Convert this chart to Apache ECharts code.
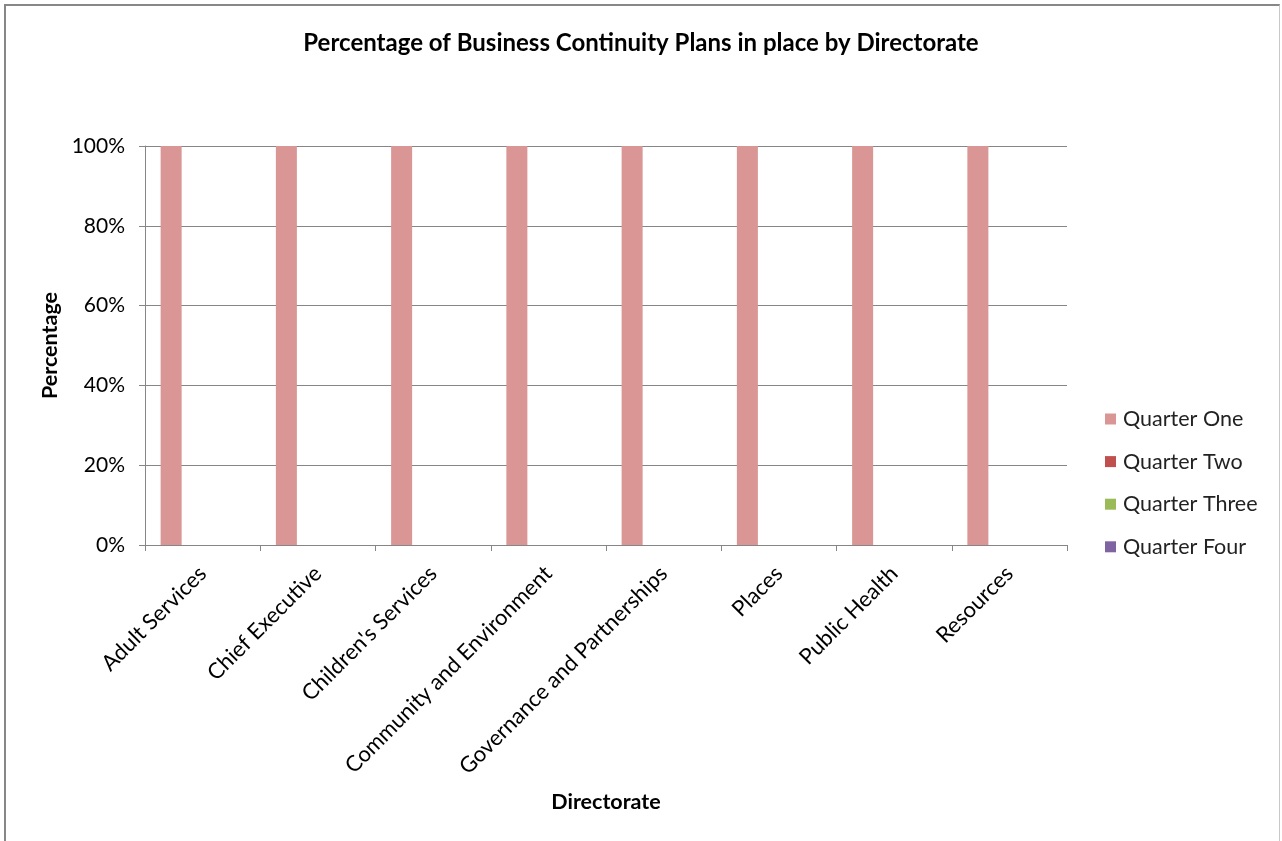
<!DOCTYPE html>
<html>
<head>
<meta charset="utf-8">
<script src="https://cdn.jsdelivr.net/npm/echarts@6/dist/echarts.min.js"></script>
<style>
html,body{margin:0;padding:0;background:#fff;}
#frame{position:absolute;left:4px;top:4px;width:1276px;height:837px;border-left:2px solid #878787;border-top:2px solid #878787;border-right:1px solid #c8c8c8;box-sizing:border-box;}
#main{position:absolute;left:0;top:0;width:1282px;height:841px;}
</style>
</head>
<body>
<div id="frame"></div>
<div id="main"></div>
<script>
const categories = ['Adult Services','Chief Executive',"Children's Services",'Community and Environment','Governance and Partnerships','Places','Public Health','Resources'];
const seriesNames = ['Quarter One','Quarter Two','Quarter Three','Quarter Four'];
const quarterOne = [100,100,100,100,100,100,100,100];
const quarterTwo = [0,0,0,0,0,0,0,0];
const quarterThree = [0,0,0,0,0,0,0,0];
const quarterFour = [0,0,0,0,0,0,0,0];
const yTicks = [0,20,40,60,80,100];
const colors = ['#D99694','#C0504D','#9BBB59','#8064A2'];

const font = 'Lato, "Open Sans", sans-serif';
const chart = echarts.init(document.getElementById('main'), null, {renderer:'canvas'});
const values = [quarterOne, quarterTwo, quarterThree, quarterFour];
chart.setOption({
  animation:false,
  color: colors,
  textStyle:{fontFamily:font},
  title:{
    text:'Percentage of Business Continuity Plans in place by Directorate',
    left:'center', top:26,
    textStyle:{fontFamily:font,fontSize:24,fontWeight:'bold',color:'#000'}
  },
  legend:{
    orient:'vertical', left:1105, top:407, padding:0,
    itemWidth:11, itemHeight:11, itemGap:18.6,
    icon:'rect',
    textStyle:{fontFamily:font,fontSize:21.5,color:'#222',lineHeight:24,padding:[0,0,0,2]},
    data: seriesNames
  },
  grid:{left:145, top:146, right:215, bottom:296, containLabel:false},
  xAxis:{
    type:'category', data:categories,
    name:'Directorate', nameLocation:'middle', nameGap:246,
    nameTextStyle:{fontFamily:font,fontSize:21.5,fontWeight:'bold',color:'#000'},
    axisLine:{lineStyle:{color:'#868686',width:1}},
    axisTick:{show:true,length:6,alignWithLabel:false,lineStyle:{color:'#868686'}},
    axisLabel:{rotate:45,fontFamily:font,fontSize:22,color:'#000',margin:25,interval:0}
  },
  yAxis:{
    type:'value', min:0, max:100, interval:20,
    name:'Percentage', nameLocation:'middle', nameGap:81,
    nameTextStyle:{fontFamily:font,fontSize:21.5,fontWeight:'bold',color:'#000'},
    axisLine:{show:true,lineStyle:{color:'#868686',width:1}},
    axisTick:{show:true,length:6,inside:false,lineStyle:{color:'#868686'}},
    splitLine:{show:true,lineStyle:{color:'#868686',width:1}},
    axisLabel:{fontFamily:font,fontSize:21,color:'#000',margin:20,
      formatter:function(v){return yTicks.indexOf(v)>=0 ? v+'%' : '';}}
  },
  series: seriesNames.map((n,i)=>({
    name:n, type:'bar', data:values[i], barWidth:21, barGap:'0%'
  }))
});
</script>
</body>
</html>
